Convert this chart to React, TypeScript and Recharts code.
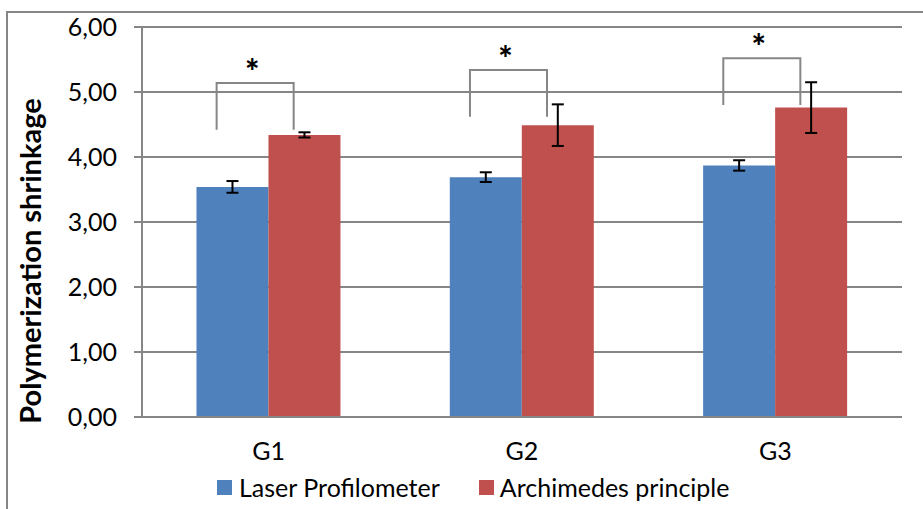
import { BarChart, Bar, XAxis, YAxis, CartesianGrid, Legend, ErrorBar, Rectangle } from 'recharts';

const groups = ['G1', 'G2', 'G3'];
const laserValues = [3.54, 3.69, 3.87];
const laserErrors = [0.09, 0.075, 0.08];
const archimedesValues = [4.34, 4.49, 4.76];
const archimedesErrors = [0.04, 0.32, 0.39];
// significance brackets (y units): top of bracket, bottom of legs
const bracketTops = [5.14, 5.34, 5.52];
const bracketBottoms = [4.42, 4.62, 4.8];
const yTicks = [0, 1, 2, 3, 4, 5, 6];

const BLUE = '#4F81BD';
const RED = '#C0504D';
const GRID = '#868686';
const FONT = 'Lato, "Open Sans", sans-serif';

const data = groups.map((g, i) => ({
    name: g,
    laser: laserValues[i],
    laserErr: laserErrors[i],
    archimedes: archimedesValues[i],
    archimedesErr: archimedesErrors[i],
    bracketTop: bracketTops[i],
    bracketBottom: bracketBottoms[i],
}));

// red bar + the significance bracket above the pair
const RedBarWithBracket = (props: any) => {
    const { x, y, width, height, payload } = props;
    const base = y + height;
    const pxPerUnit = height / payload.archimedes;
    const top = base - payload.bracketTop * pxPerUnit;
    const legBottom = base - payload.bracketBottom * pxPerUnit;
    const left = x - width + width * 0.28;
    const right = x + width * 0.35;
    return (
        <g>
            <Rectangle x={x} y={y} width={width} height={height} fill={RED} />
            <path
                d={`M${left},${legBottom} L${left},${top} L${right},${top} L${right},${legBottom}`}
                fill="none"
                stroke={GRID}
                strokeWidth={2}
            />
            <text
                x={(left + right) / 2 - 3}
                y={top + 1}
                textAnchor="middle"
                fontFamily={FONT}
                fontWeight="900"
                fontSize={34}
                fill="#000"
            >
                *
            </text>
        </g>
    );
};

const renderLegend = () => (
    <div style={{ display: 'flex', alignItems: 'center', fontFamily: FONT, fontSize: 25, color: '#000' }}>
        <span style={{ display: 'inline-block', width: 15, height: 15, background: BLUE, marginRight: 7 }} />
        <span style={{ marginRight: 39 }}>Laser Profilometer</span>
        <span style={{ display: 'inline-block', width: 15, height: 15, background: RED, marginRight: 6 }} />
        <span>Archimedes principle</span>
    </div>
);

export default function App() {
    return (
        <div style={{ position: 'relative', width: 923, height: 509, overflow: 'hidden', background: '#fff' }}>
            <style>{`body{margin:0}`}</style>
            <div
                style={{
                    position: 'absolute',
                    left: 6,
                    top: 11,
                    width: 940,
                    height: 520,
                    border: `2px solid ${GRID}`,
                    boxSizing: 'border-box',
                }}
            />
            <div style={{ position: 'absolute', left: 0, top: 0 }}>
                <BarChart
                    width={923}
                    height={509}
                    data={data}
                    margin={{ top: 27, right: 21, left: 0, bottom: 0 }}
                    barCategoryGap="21.5%"
                    barGap={0}
                >
                    <CartesianGrid vertical={false} stroke={GRID} strokeWidth={2} />
                    <XAxis
                        dataKey="name"
                        height={92}
                        axisLine={{ stroke: GRID, strokeWidth: 2 }}
                        tickLine={false}
                        tickSize={0}
                        tickMargin={25}
                        tick={{ fill: '#000', fontSize: 25, fontFamily: FONT }}
                    />
                    <YAxis
                        width={142}
                        domain={[0, 6]}
                        ticks={yTicks}
                        interval={0}
                        axisLine={{ stroke: GRID, strokeWidth: 2 }}
                        tickLine={{ stroke: GRID, strokeWidth: 2 }}
                        tickSize={8}
                        tickMargin={17}
                        tickFormatter={(v: number) => v.toFixed(2).replace('.', ',')}
                        tick={{ fill: '#000', fontSize: 25, fontFamily: FONT }}
                        label={() => (
                            <text
                                x={29}
                                y={261}
                                transform="rotate(-90, 29, 261)"
                                textAnchor="middle"
                                dominantBaseline="central"
                                fontFamily={FONT}
                                fontWeight="bold"
                                fontSize={29}
                                fill="#000"
                            >
                                Polymerization shrinkage
                            </text>
                        )}
                    />
                    <Legend
                        layout="horizontal"
                        verticalAlign="middle"
                        align="center"
                        content={renderLegend}
                        wrapperStyle={{ left: 217, top: 472, width: 'auto' }}
                    />
                    <Bar dataKey="laser" fill={BLUE} isAnimationActive={false}>
                        <ErrorBar dataKey="laserErr" width={6} stroke="#000" strokeWidth={2} isAnimationActive={false} />
                    </Bar>
                    <Bar dataKey="archimedes" fill={RED} shape={RedBarWithBracket} isAnimationActive={false}>
                        <ErrorBar dataKey="archimedesErr" width={6} stroke="#000" strokeWidth={2} isAnimationActive={false} />
                    </Bar>
                </BarChart>
            </div>
        </div>
    );
}
